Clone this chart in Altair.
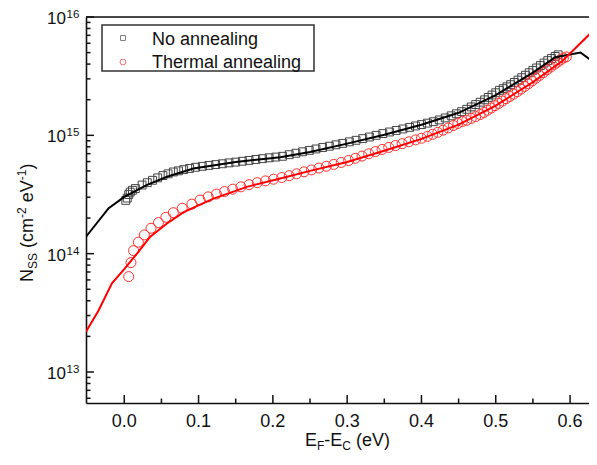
import altair as alt
import pandas as pd

# ---------------- data (N_ss in units of 1e14 cm^-2 eV^-1) ----------------
UNIT = 1e14

# No annealing (open squares)
sq_x = [0.002, 0.004, 0.006, 0.008, 0.011, 0.015, 0.024, 0.031, 0.038, 0.045,
        0.052, 0.059, 0.066, 0.073, 0.080, 0.088, 0.096, 0.105, 0.114, 0.123,
        0.132, 0.141, 0.150, 0.159, 0.168, 0.177, 0.186, 0.195, 0.204, 0.213,
        0.222, 0.231, 0.240, 0.249, 0.258, 0.267, 0.276, 0.285, 0.294, 0.303,
        0.312, 0.321, 0.330, 0.339, 0.348, 0.357, 0.366, 0.375, 0.384, 0.392,
        0.400, 0.408, 0.416, 0.424, 0.432, 0.440, 0.447, 0.454, 0.461, 0.467,
        0.473, 0.479, 0.485, 0.490, 0.495, 0.500, 0.505, 0.510, 0.515, 0.520,
        0.525, 0.530, 0.535, 0.540, 0.545, 0.550, 0.555, 0.560, 0.565, 0.570,
        0.575, 0.580, 0.584]
sq_n = [2.82, 2.95, 3.16, 3.31, 3.43, 3.55, 3.80, 3.98, 4.17, 4.37,
        4.57, 4.73, 4.90, 5.01, 5.13, 5.25, 5.37, 5.47, 5.57, 5.66,
        5.75, 5.85, 5.94, 6.04, 6.14, 6.25, 6.35, 6.46, 6.55, 6.65,
        6.86, 7.06, 7.26, 7.46, 7.67, 7.89, 8.09, 8.32, 8.55, 8.81,
        9.08, 9.38, 9.68, 10.0, 10.35, 10.67, 10.99, 11.32, 11.67, 12.0,
        12.33, 12.68, 13.03, 13.49, 14.03, 14.62, 15.21, 15.85, 16.6, 17.38,
        18.2, 19.05, 19.95, 20.9, 21.9, 22.9, 24.0, 24.8, 25.7, 26.8,
        28.0, 29.3, 30.7, 32.2, 33.8, 35.4, 37.1, 38.9, 40.8, 42.8,
        44.6, 46.4, 47.9]

# Thermal annealing (open circles)
ci_x = [0.006, 0.009, 0.0125, 0.019, 0.027, 0.036, 0.046, 0.056, 0.066, 0.078,
        0.091, 0.102, 0.113, 0.124, 0.135, 0.146, 0.157, 0.168, 0.179, 0.190,
        0.201, 0.212, 0.222, 0.232, 0.242, 0.252, 0.262, 0.272, 0.282, 0.292,
        0.302, 0.311, 0.320, 0.329, 0.338, 0.347, 0.356, 0.365, 0.374, 0.383,
        0.392, 0.400, 0.408, 0.415, 0.422, 0.429, 0.436, 0.443, 0.449, 0.455,
        0.461, 0.467, 0.473, 0.479, 0.484, 0.489, 0.494, 0.499, 0.504, 0.509,
        0.514, 0.519, 0.524, 0.529, 0.534, 0.539, 0.544, 0.549, 0.554, 0.559,
        0.564, 0.569, 0.574, 0.579, 0.583, 0.587, 0.591, 0.595]
ci_n = [0.64, 0.84, 1.06, 1.25, 1.44, 1.64, 1.83, 2.03, 2.22, 2.42,
        2.62, 2.84, 3.02, 3.19, 3.35, 3.51, 3.67, 3.83, 3.98, 4.12,
        4.26, 4.40, 4.56, 4.73, 4.92, 5.10, 5.29, 5.48, 5.68, 5.90,
        6.13, 6.40, 6.68, 6.98, 7.29, 7.60, 7.90, 8.20, 8.50, 8.82,
        9.15, 9.45, 9.80, 10.2, 10.6, 11.05, 11.55, 12.1, 12.6, 13.1,
        13.4, 13.9, 14.4, 15.0, 15.6, 16.3, 17.0, 17.8, 18.6, 19.5,
        20.4, 21.3, 22.3, 23.4, 24.6, 25.9, 27.3, 28.8, 30.4, 32.1,
        33.9, 35.8, 37.8, 39.8, 41.5, 43.3, 45.0, 46.0]

# fitted curves
fb_x = [-0.0515, -0.021, 0.0, 0.03, 0.0575, 0.093, 0.15, 0.21, 0.25, 0.30,
        0.35, 0.40, 0.45, 0.50, 0.55, 0.58, 0.614, 0.64]
fb_n = [1.39, 2.42, 3.02, 3.80, 4.47, 5.25, 5.96, 6.53, 7.24, 8.51,
        10.1, 12.3, 15.5, 21.9, 33.9, 45.7, 50.1, 38.0]
fr_x = [-0.0515, -0.0346, -0.0166, 0.0, 0.0193, 0.035, 0.0575, 0.08, 0.102, 0.12,
        0.165, 0.21, 0.25, 0.30, 0.35, 0.40, 0.45, 0.50, 0.55, 0.59, 0.64]
fr_n = [0.219, 0.331, 0.561, 0.741, 1.04, 1.39, 1.80, 2.24, 2.60, 2.92,
        3.67, 4.32, 5.01, 5.96, 7.41, 9.33, 12.3, 17.8, 28.2, 42.7, 87.0]

x_major = [0.0, 0.1, 0.2, 0.3, 0.4, 0.5, 0.6]
x_minor = [0.05, 0.15, 0.25, 0.35, 0.45, 0.55]
y_major = [1e13, 1e14, 1e15, 1e16]
y_exp = ["13", "14", "15", "16"]
mantissas = [2, 3, 4, 5, 6, 7, 8, 9]
decades = [1e12, 1e13, 1e14, 1e15]
y_minor = [m * d for d in decades for m in mantissas if m * d > 5.5e12]

legend_labels = ["No annealing", "Thermal annealing"]

# ---------------- chart ----------------
W, H = 503, 386
FONT = "Liberation Sans"
xs = alt.Scale(domain=[-0.0515, 0.6255], nice=False, zero=False)
ys = alt.Scale(type="log", domain=[5.47e12, 1e16], nice=False)
xaxis = alt.Axis(labels=False, ticks=False, grid=False, title=None,
                 domainColor="#111", domainWidth=1.6)
yaxis = alt.Axis(labels=False, ticks=False, grid=False, title=None,
                 domainColor="#111", domainWidth=1.6)

def X(f):
    return alt.X(f, type="quantitative", scale=xs, axis=xaxis)

def Y(f):
    return alt.Y(f, type="quantitative", scale=ys, axis=yaxis)

df_sq = pd.DataFrame({"x": sq_x, "y": [v * UNIT for v in sq_n]})
df_ci = pd.DataFrame({"x": ci_x, "y": [v * UNIT for v in ci_n]})
df_fb = pd.DataFrame({"x": fb_x, "y": [v * UNIT for v in fb_n]})
df_fr = pd.DataFrame({"x": fr_x, "y": [v * UNIT for v in fr_n]})
one = pd.DataFrame({"a": [0]})

squares = alt.Chart(df_sq).mark_point(shape="square", size=62, filled=False,
                                      stroke="#444444", strokeWidth=1, opacity=1,
                                      clip=True).encode(x=X("x"), y=Y("y"))
circles = alt.Chart(df_ci).mark_point(shape="circle", size=100, filled=False,
                                      stroke="#ff3030", strokeWidth=1, opacity=1,
                                      clip=True).encode(x=X("x"), y=Y("y"))
line_b = alt.Chart(df_fb).mark_line(color="black", strokeWidth=2, clip=True).encode(
    x=X("x"), y=Y("y"), order="x:Q")
line_r = alt.Chart(df_fr).mark_line(color="#ff0000", strokeWidth=2, clip=True).encode(
    x=X("x"), y=Y("y"), order="x:Q")

# frame top line
top_line = alt.Chart(one).mark_rule(color="#111", strokeWidth=1.6).encode(
    x=alt.value(0), x2=alt.value(W), y=alt.value(0))

# inward ticks
xt_major = alt.Chart(pd.DataFrame({"x": x_major})).mark_rule(color="#111", strokeWidth=1.5).encode(
    x=X("x"), y=alt.value(H), y2=alt.value(H - 8))
xt_minor = alt.Chart(pd.DataFrame({"x": x_minor})).mark_rule(color="#111", strokeWidth=1.5).encode(
    x=X("x"), y=alt.value(H), y2=alt.value(H - 4.5))
yt_major = alt.Chart(pd.DataFrame({"y": y_major})).mark_rule(color="#111", strokeWidth=1.5).encode(
    y=Y("y"), x=alt.value(0), x2=alt.value(8))
yt_minor = alt.Chart(pd.DataFrame({"y": y_minor})).mark_rule(color="#111", strokeWidth=1.5).encode(
    y=Y("y"), x=alt.value(0), x2=alt.value(4.5))

# tick labels
xl = alt.Chart(pd.DataFrame({"x": x_major})).mark_text(
    font=FONT, fontSize=18, color="#111", align="center", baseline="alphabetic").encode(
    x=X("x"), y=alt.value(H + 24), text=alt.Text("x:Q", format=".1f"))
df_yl = pd.DataFrame({"y": y_major, "e": y_exp})
yl_base = alt.Chart(df_yl).mark_text(
    font=FONT, fontSize=17, color="#111", align="right", baseline="alphabetic", dy=7).encode(
    y=Y("y"), x=alt.value(-20), text=alt.value("10"))
yl_exp = alt.Chart(df_yl).mark_text(
    font=FONT, fontSize=11.5, color="#111", align="left", baseline="alphabetic", dy=1).encode(
    y=Y("y"), x=alt.value(-19.5), text="e:N")

def txt(s, x, y, size, angle=0):
    return alt.Chart(one).mark_text(
        text=s, font=FONT, fontSize=size, color="#111", align="left",
        baseline="alphabetic", angle=angle).encode(x=alt.value(x), y=alt.value(y))

# x title: E_F-E_C (eV)
xtitle = [
    txt("E", 219, H + 43, 18), txt("F", 231, H + 47, 12), txt("-", 238.3, H + 43, 18),
    txt("E", 244.3, H + 43, 18), txt("C", 256.3, H + 47, 12), txt("(eV)", 270, H + 43, 18),
]
# y title: N_SS (cm^-2 eV^-1)
ytitle = [
    txt("N", -53, 265, 18, 270), txt("SS", -49, 252, 12, 270), txt("(cm", -53, 231, 18, 270),
    txt("-2", -60, 201, 12, 270), txt("eV", -53, 185.3, 18, 270), txt("-1", -60, 163.3, 12, 270),
    txt(")", -53, 152.6, 18, 270),
]

# legend
leg_box = alt.Chart(one).mark_rect(fill="white", stroke="#333", strokeWidth=1.5).encode(
    x=alt.value(16), x2=alt.value(228), y=alt.value(8), y2=alt.value(54))
leg_sq = alt.Chart(one).mark_point(shape="square", size=24, filled=False,
                                   stroke="#444444", strokeWidth=1).encode(
    x=alt.value(37), y=alt.value(21))
leg_ci = alt.Chart(one).mark_point(shape="circle", size=34, filled=False,
                                   stroke="#ff3030", strokeWidth=1).encode(
    x=alt.value(37), y=alt.value(45))
leg_t1 = txt(legend_labels[0], 66, 28, 18)
leg_t2 = txt(legend_labels[1], 66, 50.5, 18)

chart = alt.layer(
    squares, circles, line_b, line_r, top_line,
    xt_major, xt_minor, yt_major, yt_minor, xl, yl_base, yl_exp,
    *xtitle, *ytitle, leg_box, leg_sq, leg_ci, leg_t1, leg_t2,
).properties(
    width=W, height=H,
    autosize=alt.AutoSizeParams(type="none"),
    padding={"left": 78, "top": 9, "right": 0, "bottom": 54},
).configure_view(stroke=None).configure(background="white")

chart.save("out.html", embed_options={"renderer": "svg", "actions": False})
